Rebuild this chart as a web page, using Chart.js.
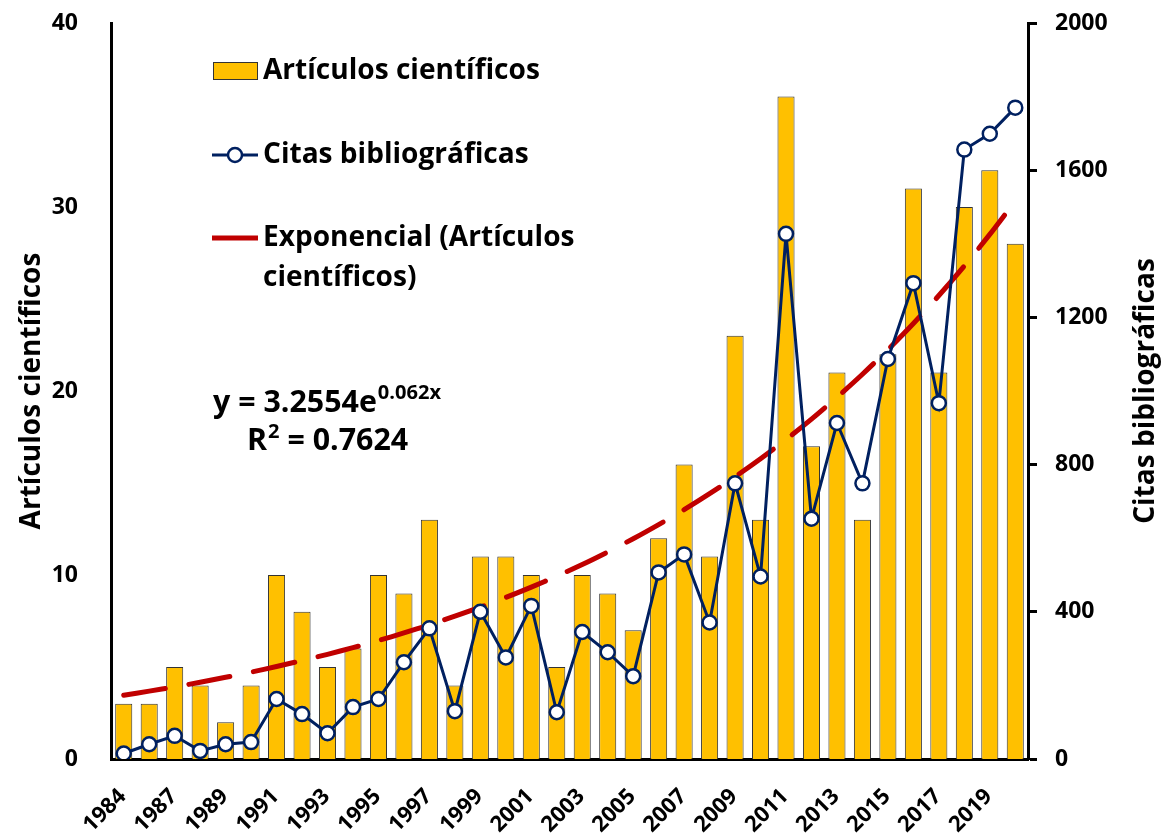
<!DOCTYPE html>
<html>
<head>
<meta charset="utf-8">
<script src="https://cdn.jsdelivr.net/npm/chart.js@4.4.0/dist/chart.umd.min.js"></script>
<style>
  html, body { margin: 0; padding: 0; background: #fff; }
  #contenedor { width: 1167px; height: 835px; }
</style>
</head>
<body>
<div id="contenedor"><canvas id="GraficoArticulos"></canvas></div>
<script>
// datos
const anios = ['1984', '1986', '1987', '1988', '1989', '1990', '1991', '1992', '1993', '1994',
    '1995', '1996', '1997', '1998', '1999', '2000', '2001', '2002', '2003', '2004',
    '2005', '2006', '2007', '2008', '2009', '2010', '2011', '2012', '2013', '2014',
    '2015', '2016', '2017', '2018', '2019', '2020'];
const articulos = [3, 3, 5, 4, 2, 4, 10, 8, 5, 6,
    10, 9, 13, 4, 11, 11, 10, 5, 10, 9,
    7, 12, 16, 11, 23, 13, 36, 17, 21, 13,
    22, 31, 21, 30, 32, 28];
const citas = [15, 40, 63, 22, 40, 46, 163, 122, 70, 141,
    163, 263, 355, 130, 400, 276, 416, 127, 345, 290,
    225, 507, 556, 371, 749, 496, 1427, 653, 913, 749,
    1087, 1293, 967, 1656, 1699, 1770];
// linea de tendencia exponencial (y = 3.2554e^0.062x)
const tendencia = [3.46, 3.69, 3.92, 4.17, 4.44, 4.72, 5.03, 5.35, 5.69, 6.05,
    6.44, 6.85, 7.29, 7.76, 8.25, 8.78, 9.34, 9.94, 10.57, 11.25,
    11.97, 12.74, 13.55, 14.42, 15.34, 16.32, 17.36, 18.47, 19.66, 20.91,
    22.25, 23.67, 25.19, 26.80, 28.51, 30.33];

const fuente = '"Open Sans", "DejaVu Sans", sans-serif';
Chart.defaults.font.family = fuente;
Chart.defaults.font.weight = 'bold';
Chart.defaults.color = '#000';

// tamaño de letra para que el texto mida lo mismo que en la imagen
const ajustarFuente = (ctx, texto, ancho) => {
    ctx.font = 'bold 100px ' + fuente;
    return 100 * ancho / ctx.measureText(texto).width;
};

const textos = {
    id: 'textos',
    afterDraw(chart) {
        const ctx = chart.ctx;
        const area = chart.chartArea;
        const ds = chart.data.datasets;
        const ejeX = chart.scales.x;
        ctx.save();
        const tam = ajustarFuente(ctx, 'Artículos científicos', 277);
        const tamEq = ajustarFuente(ctx, 'y = 3.2554e', 164);
        const letra = 'bold ' + tam + 'px ' + fuente;
        const letraEq = 'bold ' + tamEq + 'px ' + fuente;
        const letraSup = 'bold ' + (tamEq * 0.66) + 'px ' + fuente;
        ctx.fillStyle = '#000';
        ctx.textBaseline = 'middle';

        // etiquetas del eje x, giradas 45 grados
        ctx.font = 'bold 22px ' + fuente;
        ctx.textAlign = 'right';
        anios.forEach((a, i) => {
            if (i % 2 !== 0) return;
            ctx.save();
            ctx.translate(ejeX.getPixelForTick(i) - 1, area.bottom + 34);
            ctx.rotate(-Math.PI / 4);
            ctx.fillText(a, 0, 0);
            ctx.restore();
        });

        // titulos de ejes
        ctx.font = letra;
        ctx.textAlign = 'center';
        const yMedio = (area.top + area.bottom) / 2;
        ctx.save();
        ctx.translate(32, yMedio);
        ctx.rotate(-Math.PI / 2);
        ctx.fillText('Artículos científicos', 0, 0);
        ctx.restore();
        ctx.save();
        ctx.translate(1146, yMedio);
        ctx.rotate(-Math.PI / 2);
        ctx.fillText('Citas bibliográficas', 0, 0);
        ctx.restore();

        // leyenda
        ctx.textAlign = 'left';
        ctx.fillStyle = ds[0].backgroundColor;
        ctx.fillRect(213, 62, 45, 18);
        ctx.strokeStyle = ds[0].borderColor;
        ctx.lineWidth = 1;
        ctx.strokeRect(213.5, 62.5, 44, 17);

        ctx.strokeStyle = ds[2].borderColor;
        ctx.lineWidth = 3;
        ctx.beginPath();
        ctx.moveTo(212, 155);
        ctx.lineTo(258, 155);
        ctx.stroke();
        ctx.fillStyle = '#fff';
        ctx.lineWidth = 2.5;
        ctx.beginPath();
        ctx.arc(235, 155, 7, 0, Math.PI * 2);
        ctx.fill();
        ctx.stroke();

        ctx.strokeStyle = ds[1].borderColor;
        ctx.lineWidth = 5;
        ctx.beginPath();
        ctx.moveTo(212, 238);
        ctx.lineTo(258, 238);
        ctx.stroke();

        ctx.fillStyle = '#000';
        ctx.fillText('Artículos científicos', 263, 71);
        ctx.fillText('Citas bibliográficas', 263, 155);
        ctx.fillText('Exponencial (Artículos', 263, 238);
        ctx.fillText('científicos)', 263, 278);

        // ecuacion
        ctx.font = letraEq;
        const base = 'y = 3.2554e';
        ctx.fillText(base, 213, 403);
        const w = ctx.measureText(base).width;
        ctx.font = letraSup;
        ctx.fillText('0.062x', 213 + w + 1, 393);
        ctx.font = letraEq;
        ctx.fillText('R', 247, 441);
        const wr = ctx.measureText('R').width;
        ctx.font = letraSup;
        ctx.fillText('2', 247 + wr + 1, 432);
        const w2 = ctx.measureText('2').width;
        ctx.font = letraEq;
        ctx.fillText(' = 0.7624', 247 + wr + w2 + 1, 441);
        ctx.restore();
    }
};

const data = {
    labels: anios,
    datasets: [
        {
            type: 'bar',
            label: 'Artículos científicos',
            data: articulos,
            yAxisID: 'y',
            backgroundColor: '#FFC000',
            borderColor: '#333333',
            borderWidth: 1,
            barPercentage: 0.67,
            categoryPercentage: 1,
            order: 3
        },
        {
            type: 'line',
            label: 'Exponencial (Artículos científicos)',
            data: tendencia,
            yAxisID: 'y',
            borderColor: '#C00000',
            borderWidth: 5,
            borderDash: [42, 24],
            borderCapStyle: 'round',
            pointRadius: 0,
            tension: 0.3,
            order: 2
        },
        {
            type: 'line',
            label: 'Citas bibliográficas',
            data: citas,
            yAxisID: 'y2',
            borderColor: '#002060',
            borderWidth: 3,
            pointRadius: 7,
            pointBackgroundColor: '#fff',
            pointBorderColor: '#002060',
            pointBorderWidth: 2.5,
            order: 1
        }
    ]
};

const sinRelleno = (s) => { s.paddingTop = 0; s.paddingBottom = 0; };

const config = {
    data: data,
    options: {
        responsive: true,
        maintainAspectRatio: false,
        animation: false,
        layout: { padding: { top: 23, left: 0, right: 0, bottom: 0 } },
        plugins: {
            legend: { display: false },
            tooltip: { enabled: false }
        },
        scales: {
            x: {
                grid: { display: false },
                border: { color: '#000', width: 3 },
                ticks: { display: false },
                afterFit: (s) => { s.height = 76; s.paddingLeft = 0; s.paddingRight = 0; }
            },
            y: {
                position: 'left',
                min: 0,
                max: 40,
                grid: { display: false },
                border: { color: '#000', width: 3 },
                ticks: { stepSize: 10, padding: 25, font: { size: 23, weight: 'bold' } },
                afterFit: (s) => { s.width = 111; sinRelleno(s); }
            },
            y2: {
                position: 'right',
                min: 0,
                max: 2000,
                grid: { drawOnChartArea: false, drawTicks: true, tickLength: 9, tickWidth: 3, tickColor: '#000' },
                border: { color: '#000', width: 3 },
                ticks: {
                    stepSize: 400,
                    padding: 18,
                    font: { size: 23, weight: 'bold' },
                    callback: (v) => String(v)
                },
                afterFit: (s) => { s.width = 139; sinRelleno(s); }
            }
        }
    },
    plugins: [textos]
};

const myChart = new Chart(
    document.getElementById('GraficoArticulos'),
    config
);
</script>
</body>
</html>
